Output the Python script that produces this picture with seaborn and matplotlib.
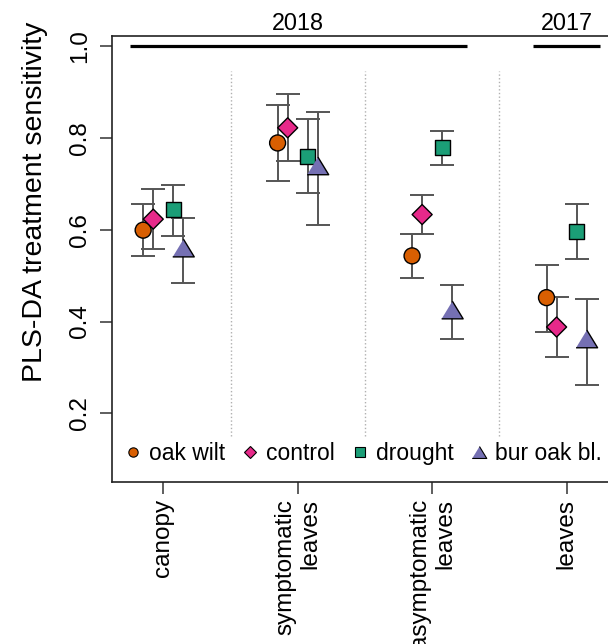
import numpy as np
import pandas as pd
import seaborn as sns
import matplotlib.pyplot as plt
from matplotlib.lines import Line2D

groups = ["canopy", "symptomatic\nleaves", "asymptomatic\nleaves", "leaves"]
treatments = ["oak wilt", "control", "drought", "bur oak bl."]

oak_wilt = [0.599, 0.789, 0.543, 0.452]
oak_wilt_lo = [0.542, 0.707, 0.495, 0.378]
oak_wilt_hi = [0.656, 0.871, 0.590, 0.524]
control = [0.623, 0.822, 0.633, 0.388]
control_lo = [0.558, 0.750, 0.590, 0.323]
control_hi = [0.688, 0.895, 0.676, 0.453]
drought = [0.643, 0.760, 0.779, 0.596]
drought_lo = [0.587, 0.679, 0.742, 0.536]
drought_hi = [0.697, 0.841, 0.816, 0.656]
bur_oak = [0.560, 0.739, 0.425, 0.362]
bur_oak_lo = [0.484, 0.610, 0.361, 0.262]
bur_oak_hi = [0.626, 0.857, 0.479, 0.450]

years = ["2018", "2017"]

sns.set_theme(style="ticks")
plt.rcParams['font.family'] = ['Liberation Sans', 'DejaVu Sans']
plt.rcParams['text.color'] = 'black'

colors = {"oak wilt": "#D95F02", "control": "#E7298A",
          "drought": "#1B9E77", "bur oak bl.": "#7570B3"}
tri = [(-1, -0.82), (1, -0.82), (0, 0.82)]
markers = {"oak wilt": "o", "control": "D", "drought": "s", "bur oak bl.": tri}
sizes = {"oak wilt": 11.5**2, "control": 10.2**2, "drought": 10.8**2, "bur oak bl.": 15.5**2}
offsets = {"oak wilt": -0.15, "control": -0.075, "drought": 0.075, "bur oak bl.": 0.15}

vals = {"oak wilt": (oak_wilt, oak_wilt_lo, oak_wilt_hi),
        "control": (control, control_lo, control_hi),
        "drought": (drought, drought_lo, drought_hi),
        "bur oak bl.": (bur_oak, bur_oak_lo, bur_oak_hi)}

rows = []
for t in treatments:
    v, lo, hi = vals[t]
    for i, g in enumerate(groups):
        rows.append({"treatment": t, "group": g, "x": i + 1 + offsets[t],
                     "y": v[i], "lo": lo[i], "hi": hi[i]})
df = pd.DataFrame(rows)

fig = plt.figure(figsize=(6.08, 6.44), dpi=100)
ax = fig.add_axes([111.7 / 608, 162.3 / 644, 506.6 / 608, 445.7 / 644])

# error bars
ax.errorbar(df["x"], df["y"], yerr=[df["y"] - df["lo"], df["hi"] - df["y"]],
            fmt="none", ecolor="#555555", elinewidth=1.4, capsize=8.6,
            capthick=1.4, zorder=2)

sns.scatterplot(data=df, x="x", y="y", hue="treatment", style="treatment",
                size="treatment", palette=colors, markers=markers, sizes=sizes,
                edgecolor="black", linewidth=1.0, legend=False, zorder=3, ax=ax)

# separators and year bars
ax.vlines([1.5, 2.5, 3.5], 0.15, 0.945, colors="#b0b0b0", linestyles=":", lw=1)
ax.hlines(1.0, 0.75, 3.26, colors="black", lw=2.3)
ax.hlines(1.0, 3.75, 4.25, colors="black", lw=2.3)
for xpos, yr in zip([2, 4], years):
    ax.text(xpos, 1.029, yr, transform=ax.get_xaxis_transform(),
            ha="center", va="center", fontsize=16.8, color="black")

ax.set_xlim(0.616, 4.384)
ax.set_ylim(0.051, 1.022)
ax.set_xticks([1, 2, 3, 4])
ax.set_xticklabels(groups, rotation=90, ha="center", va="top",
                   multialignment="right", fontsize=17.5, color="black")
ax.set_yticks([0.2, 0.4, 0.6, 0.8, 1.0])
ax.set_yticklabels(["0.2", "0.4", "0.6", "0.8", "1.0"], fontsize=17.5,
                   rotation=90, va="center", color="black")
ax.tick_params(axis="both", length=8.6, width=1.1, color="#333333", pad=4)
ax.tick_params(axis="y", pad=6)
ax.set_xlabel("")
ax.set_ylabel("")
for s in ax.spines.values():
    s.set_linewidth(1.2)
    s.set_color("#222222")

fig.text(35 / 608, 1 - 202 / 644, "PLS-DA treatment sensitivity", rotation=90,
         ha="center", va="center", fontsize=20.5, color="black")

handles = [Line2D([], [], ls="none", marker=markers[t], markerfacecolor=colors[t],
                  markeredgecolor="black", markeredgewidth=0.8,
                  markersize={"oak wilt": 6.7, "control": 6.2, "drought": 6.6,
                              "bur oak bl.": 10.5}[t])
           for t in treatments]
leg = ax.legend(handles, treatments, ncol=4, loc="center left",
                bbox_to_anchor=(0.024, 0.064), frameon=False, fontsize=16.5,
                handlelength=0.8, handletextpad=0.3, columnspacing=0.7,
                borderpad=0, borderaxespad=0)
for txt in leg.get_texts():
    txt.set_color("black")

fig.savefig("out.png", dpi=100)
